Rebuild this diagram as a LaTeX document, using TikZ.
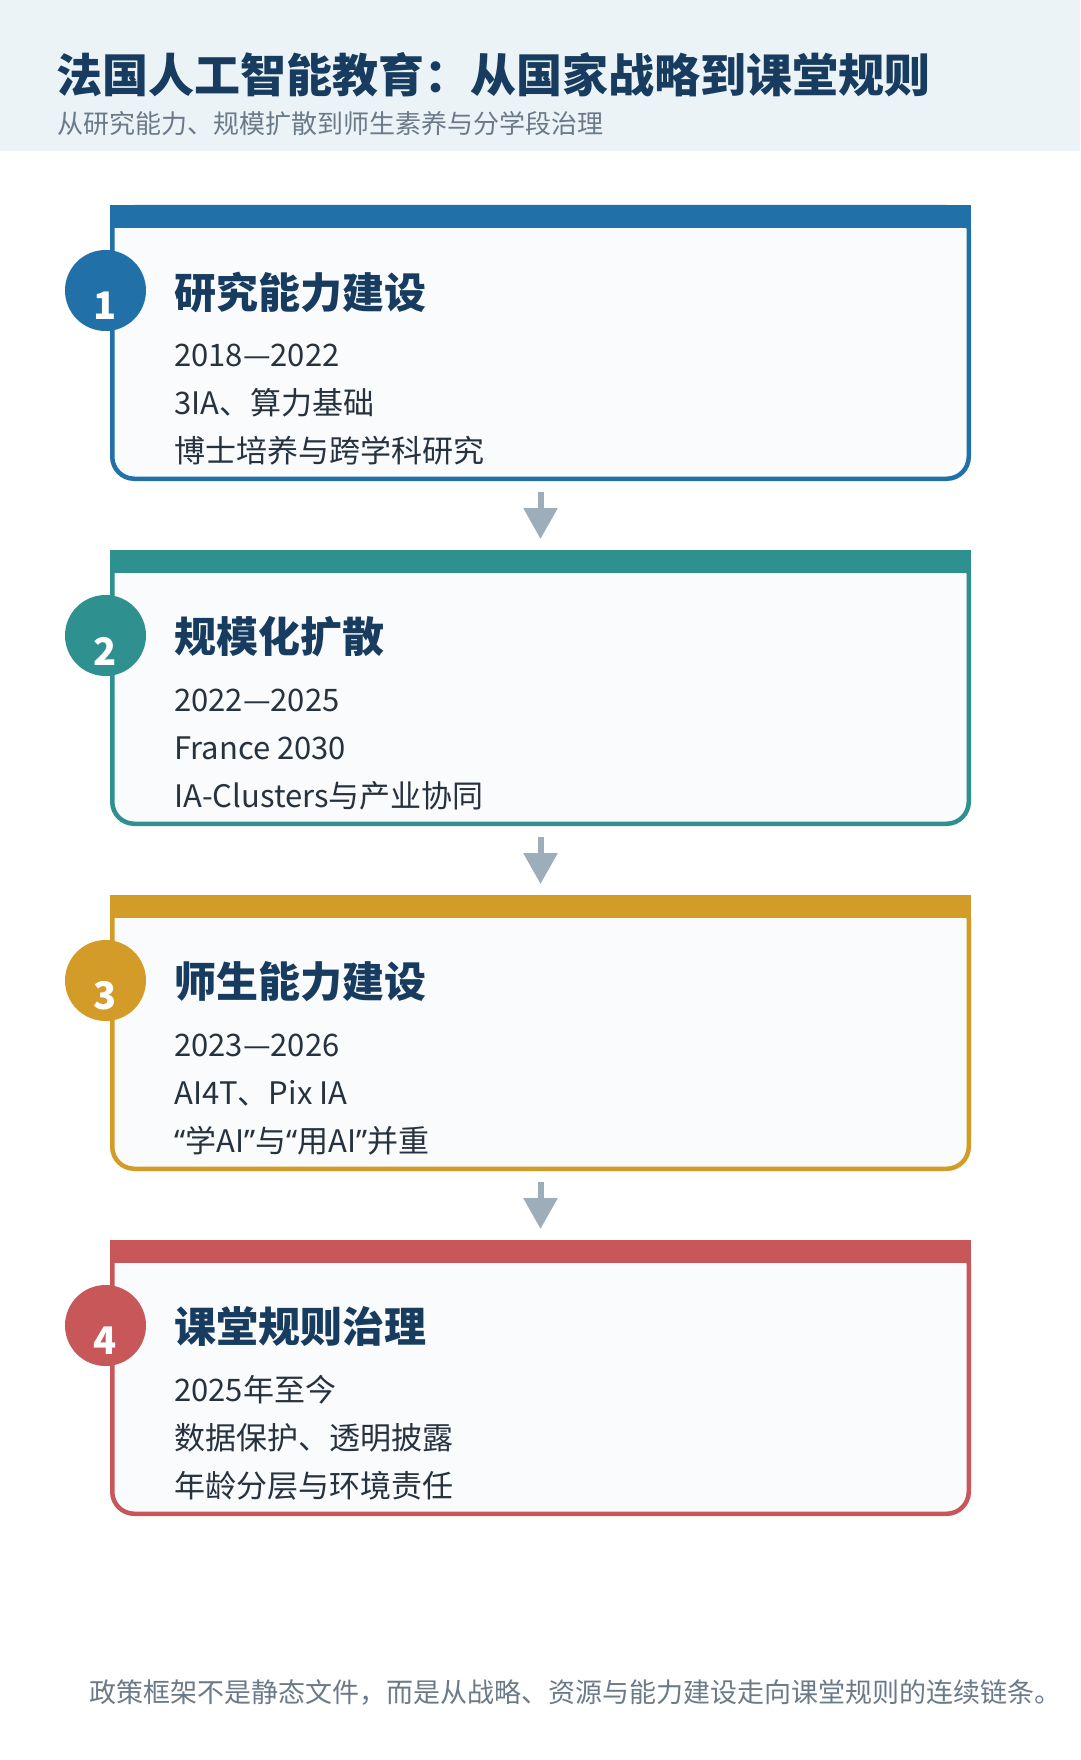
\documentclass[tikz,border=0pt]{standalone}
\usepackage{fontspec}
\setmainfont{Noto Sans CJK SC}
\newfontfamily\quotefont{Noto Sans}
\usetikzlibrary{calc,arrows.meta}

\definecolor{headbg}{HTML}{EBF3F7}
\definecolor{titlenavy}{HTML}{173C5F}
\definecolor{subgray}{HTML}{6B7A89}
\definecolor{bodyink}{HTML}{27323F}
\definecolor{boxfill}{HTML}{F9FBFD}
\definecolor{arrowgray}{HTML}{9DADBA}
\definecolor{stageA}{HTML}{2270A8}
\definecolor{stageB}{HTML}{2E918F}
\definecolor{stageC}{HTML}{D39B27}
\definecolor{stageD}{HTML}{C8575A}

\newcommand{\oquote}{{\quotefont “}}
\newcommand{\cquote}{{\quotefont ”}}

\tikzset{
  stagebox/.style={draw, line width=4.5pt, fill=boxfill, rounded corners=22pt,
    minimum width=856.5pt, minimum height=271.5pt, inner sep=0pt},
  stagedot/.style={circle, minimum size=81pt, inner sep=0pt},
  stagenum/.style={text=white, font=\fontsize{38}{38}\selectfont\bfseries},
  stagehead/.style={anchor=west, inner sep=0pt, text=titlenavy,
    font=\fontsize{42}{42}\selectfont\bfseries},
  stageline/.style={anchor=base west, inner sep=0pt, text=bodyink,
    font=\fontsize{31}{31}\selectfont},
  flowarrow/.style={draw=arrowgray, line width=6pt,
    -{Triangle[width=33pt,length=31pt]}, shorten <=11pt, shorten >=11pt}
}

\begin{document}
\begin{tikzpicture}[x=1pt,y=-1pt]
	\useasboundingbox (0,0) rectangle (1080,1760);
	% header band
	\fill[headbg] (0,0) rectangle (1080,151);
	\node[anchor=west, inner sep=0pt, text=titlenavy, font=\fontsize{46}{46}\selectfont\bfseries] (title) at (56,75) {法国人工智能教育：从国家战略到课堂规则};
	\node[anchor=west, inner sep=0pt, text=subgray, font=\fontsize{26}{26}\selectfont] (subtitle) at (57,124) {从研究能力、规模扩散到师生素养与分学段治理};
	% stages
	\foreach \i/\col/\ytop/\head/\la/\lb/\lc in {%
		1/stageA/205/研究能力建设/2018—2022/3IA、算力基础/博士培养与跨学科研究,%
		2/stageB/550/规模化扩散/2022—2025/France 2030/IA-Clusters与产业协同,%
		3/stageC/895/师生能力建设/2023—2026/AI4T、Pix IA/{\oquote 学AI\cquote 与\oquote 用AI\cquote 并重},%
		4/stageD/1240/课堂规则治理/2025年至今/数据保护、透明披露/年龄分层与环境责任}
	{
		\node[stagebox, draw=\col] (s\i) at (540.5,\ytop+138) {};
		\fill[\col] (s\i.north west) rectangle ++(861,23);
		\node[stagedot, fill=\col] (d\i) at ($(s\i.north west)+(-4.5,85.5)$) {};
		\node[stagenum] (n\i) at ($(d\i.center)+(0,15.5)$) {\i};
		\node[stagehead] (h\i) at ($(s\i.north west)+(64,87)$) {\head};
		\node[stageline] (a\i) at ($(s\i.north west)+(64,161)$) {\la};
		\node[stageline] (b\i) at ($(s\i.north west)+(64,209)$) {\lb};
		\node[stageline] (c\i) at ($(s\i.north west)+(64,257)$) {\lc};
	}
	\foreach \i/\j in {1/2,2/3,3/4}
		\draw[flowarrow] (s\i.south) -- (s\j.north);
	% closing note
	\node[anchor=west, inner sep=0pt, text=subgray, font=\fontsize{27}{27}\selectfont] (note) at (89,1692) {政策框架不是静态文件，而是从战略、资源与能力建设走向课堂规则的连续链条。};
\end{tikzpicture}
\end{document}
